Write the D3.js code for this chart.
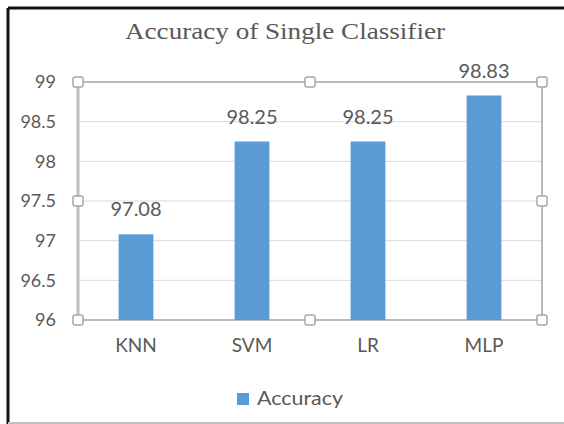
<!DOCTYPE html>
<html><head>
<meta charset="utf-8">
<script src="https://cdn.jsdelivr.net/npm/d3@7"></script>
<style>
  body { margin: 0; background: #fff; }
  text { fill: #595959; }
</style>
</head>
<body>
<div id="chart"></div>
<script>

var categories = ["KNN", "SVM", "LR", "MLP"];
var accuracy = [97.08, 98.25, 98.25, 98.83];
var yTicks = [96, 96.5, 97, 97.5, 98, 98.5, 99];

var W = 564, H = 424;
var margin = {top: 82, right: 22, bottom: 104, left: 78};
var width = W - margin.left - margin.right;
var height = H - margin.top - margin.bottom;

var svg = d3.select("#chart").append("svg")
    .attr("width", W)
    .attr("height", H);

// outer frame
svg.append("line").attr("x1", 8).attr("y1", 8).attr("x2", W).attr("y2", 8)
  .attr("stroke", "#111").attr("stroke-width", 3);
svg.append("line").attr("x1", 8).attr("y1", 8).attr("x2", 8).attr("y2", H)
  .attr("stroke", "#111").attr("stroke-width", 3);
svg.append("line").attr("x1", 8).attr("y1", H - 1).attr("x2", W).attr("y2", H - 1)
  .attr("stroke", "#bfbfbf").attr("stroke-width", 2);

svg.append("text")
  .attr("x", 125).attr("y", 39)
  .attr("textLength", 320)
  .attr("lengthAdjust", "spacingAndGlyphs")
  .style("font-family", "Liberation Serif, serif")
  .style("font-size", "24px")
  .text("Accuracy of Single Classifier");

var g = svg.append("g")
  .attr("transform", "translate(" + margin.left + "," + margin.top + ")");

var x = d3.scaleBand().domain(categories).range([0, width]).paddingInner(0.7).paddingOuter(0.35);
var y = d3.scaleLinear().domain([96, 99]).range([height, 0]);

// gridlines
g.selectAll(".grid").data(yTicks.slice(1, -1)).enter().append("line")
  .attr("x1", 0).attr("x2", width)
  .attr("y1", function(d) { return y(d); })
  .attr("y2", function(d) { return y(d); })
  .attr("stroke", "#d9d9d9").attr("stroke-width", 1);

// bars
g.selectAll(".bar").data(accuracy).enter().append("rect")
  .attr("x", function(d, i) { return x(categories[i]); })
  .attr("width", x.bandwidth())
  .attr("y", function(d) { return y(d); })
  .attr("height", function(d) { return height - y(d); })
  .attr("fill", "#5b9bd5");

// value labels
g.selectAll(".lbl").data(accuracy).enter().append("text")
  .attr("x", function(d, i) { return x(categories[i]) + x.bandwidth() / 2; })
  .attr("y", function(d) { return y(d) - 18; })
  .attr("text-anchor", "middle")
  .style("font-family", "Lato, sans-serif")
  .style("font-size", "20px")
  .text(function(d) { return d.toFixed(2); });

// axes
var yAxis = g.append("g").call(d3.axisLeft(y).tickValues(yTicks).tickSize(0).tickPadding(22).tickFormat(d3.format("")));
yAxis.select(".domain").remove();
yAxis.selectAll("text").style("font-family", "Lato, sans-serif").style("font-size", "18px").attr("fill", "#595959");

var xAxis = g.append("g").attr("transform", "translate(0," + height + ")")
  .call(d3.axisBottom(x).tickSize(0).tickPadding(19));
xAxis.select(".domain").remove();
xAxis.selectAll("text").style("font-family", "Lato, sans-serif").style("font-size", "19px").attr("fill", "#595959");

// selection frame of the plot area
g.append("rect").attr("x", 0).attr("y", 0).attr("width", width).attr("height", height)
  .attr("fill", "none").attr("stroke", "#8c8c8c").attr("stroke-width", 1.2);
g.append("line").attr("x1", 0).attr("x2", 0).attr("y1", 0).attr("y2", height)
  .attr("stroke", "#bfbfbf").attr("stroke-width", 3);

var handles = [[0, 0], [width / 2, 0], [width, 0], [0, height / 2], [width, height / 2],
               [0, height], [width / 2, height], [width, height]];
g.selectAll(".handle").data(handles).enter().append("rect")
  .attr("x", function(d) { return d[0] - 5; })
  .attr("y", function(d) { return d[1] - 5; })
  .attr("width", 10).attr("height", 10).attr("rx", 2)
  .attr("fill", "#fff").attr("stroke", "#a6a6a6").attr("stroke-width", 1.5);

// legend
var legend = svg.append("g").attr("transform", "translate(237,393)");
legend.append("rect").attr("width", 12).attr("height", 12).attr("fill", "#5b9bd5");
legend.append("text").attr("x", 20).attr("y", 12)
  .attr("textLength", 86)
  .attr("lengthAdjust", "spacingAndGlyphs")
  .style("font-family", "Lato, sans-serif").style("font-size", "20px")
  .text("Accuracy");

</script>
</body></html>
